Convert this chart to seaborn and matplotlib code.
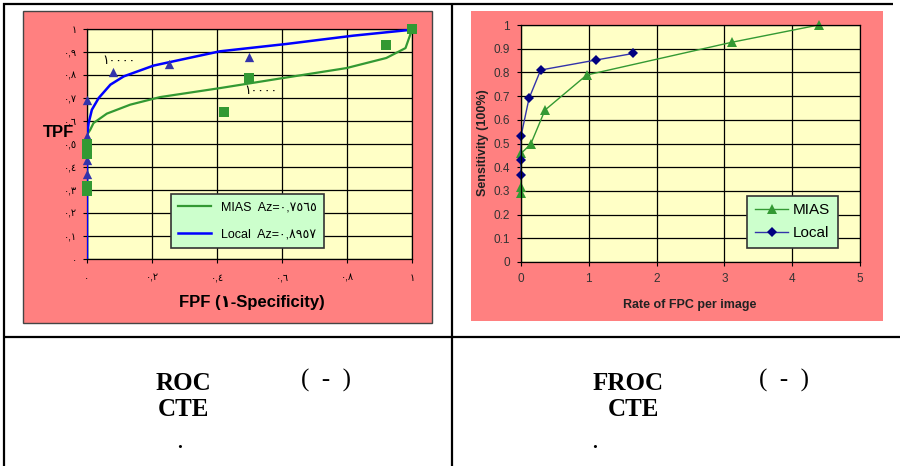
import numpy as np
import pandas as pd
import matplotlib
matplotlib.use('Agg')
import matplotlib.pyplot as plt
from matplotlib.patches import Rectangle
import seaborn as sns

# ROC chart (left): fitted curves
local_fit_x = [0, 0, 0.005, 0.015, 0.036, 0.072, 0.113, 0.205, 0.251, 0.409, 0.614, 0.819, 1.0]
local_fit_y = [0, 0.533, 0.591, 0.649, 0.700, 0.758, 0.794, 0.841, 0.855, 0.903, 0.935, 0.971, 0.997]
mias_fit_x = [0, 0, 0.010, 0.020, 0.061, 0.133, 0.225, 0.409, 0.604, 0.798, 0.921, 0.980, 1.0]
mias_fit_y = [0, 0.540, 0.562, 0.591, 0.632, 0.671, 0.704, 0.743, 0.787, 0.830, 0.874, 0.917, 0.997]

# ROC operating points
local_roc_fpf = [0, 0, 0, 0, 0.080, 0.252, 0.499]
local_roc_tpf = [0.368, 0.429, 0.536, 0.690, 0.812, 0.849, 0.877]
mias_roc_fpf = [0, 0, 0, 0, 0.420, 0.499, 0.919, 1.0]
mias_roc_tpf = [0.294, 0.316, 0.458, 0.500, 0.641, 0.788, 0.932, 1.0]

roc_yticks = [0, 0.1, 0.2, 0.3, 0.4, 0.5, 0.6, 0.7, 0.8, 0.9, 1.0]
roc_ylabels = ['٠', '٠,١', '٠,٢', '٠,٣', '٠,٤', '٠,٥', '٠,٦', '٠,٧', '٠,٨', '٠,٩', '١']
roc_xticks = [0, 0.2, 0.4, 0.6, 0.8, 1.0]
roc_xlabels = ['٠', '٠,٢', '٠,٤', '٠,٦', '٠,٨', '١']
roc_legend = ['MIAS  Az=٠,٧٥٦٥', 'Local  Az=٠,٨٩٥٧']
roc_note = '١٠٠٠٠'

# FROC chart (right)
mias_fpc = [0, 0, 0, 0.143, 0.354, 0.969, 3.107, 4.39]
mias_sens = [0.292, 0.317, 0.458, 0.497, 0.641, 0.789, 0.927, 1.0]
local_fpc = [0, 0, 0, 0.118, 0.290, 1.101, 1.657]
local_sens = [0.369, 0.431, 0.531, 0.690, 0.810, 0.852, 0.880]
froc_xticks = [0, 1, 2, 3, 4, 5]
froc_ylabels = ['0', '0.1', '0.2', '0.3', '0.4', '0.5', '0.6', '0.7', '0.8', '0.9', '1']

plt.rcParams['font.family'] = ['Liberation Sans', 'DejaVu Sans']

red = '#FF8080'
cream = '#FFFFC6'
mint = '#CCFFCC'
green = '#339933'
fig = plt.figure(figsize=(9, 4.66), dpi=100)

# page / table background in pixel coords
bg = fig.add_axes([0, 0, 1, 1])
bg.set_xlim(0, 900)
bg.set_ylim(466, 0)
bg.axis('off')
bg.add_patch(Rectangle((23, 11), 409, 312, facecolor=red, edgecolor='#444444', lw=1))
bg.add_patch(Rectangle((471, 11), 412, 310, facecolor=red, edgecolor='none'))
for xs, ys in [([3, 893], [3.5, 3.5]), ([3.5, 3.5], [3, 466]), ([452, 452], [3, 466]),
               ([3, 900], [337, 337])]:
    bg.plot(xs, ys, color='black', lw=1.6, solid_capstyle='butt')

serif = 'Liberation Serif'
bg.text(183, 383, 'ROC', family=serif, weight='bold', fontsize=18, ha='center', va='center')
bg.text(326, 380, '(  -  )', family=serif, fontsize=18, ha='center', va='center')
bg.text(183, 409, 'CTE', family=serif, weight='bold', fontsize=18, ha='center', va='center')
bg.text(180, 444, '.', family=serif, weight='bold', fontsize=14, ha='center', va='center')
bg.text(628, 383, 'FROC', family=serif, weight='bold', fontsize=18, ha='center', va='center')
bg.text(784, 380, '(  -  )', family=serif, fontsize=18, ha='center', va='center')
bg.text(633, 409, 'CTE', family=serif, weight='bold', fontsize=18, ha='center', va='center')
bg.text(595, 444, '.', family=serif, weight='bold', fontsize=14, ha='center', va='center')

# ---- ROC ----
ax1 = fig.add_axes([87 / 900, 1 - 259 / 466, 325 / 900, 230 / 466])
ax1.set_facecolor(cream)
sns.lineplot(x=mias_fit_x, y=mias_fit_y, sort=False, estimator=None, color=green,
             lw=1.6, ax=ax1, label=roc_legend[0], zorder=3)
sns.lineplot(x=local_fit_x, y=local_fit_y, sort=False, estimator=None, color='#0000FF',
             lw=1.8, ax=ax1, label=roc_legend[1], zorder=4)
sns.scatterplot(x=local_roc_fpf, y=local_roc_tpf, marker='^', color='#3333AA', s=45,
                linewidth=0, ax=ax1, zorder=5, clip_on=False)
sns.scatterplot(x=mias_roc_fpf, y=mias_roc_tpf, marker='s', color=green, s=45,
                linewidth=0, ax=ax1, zorder=6, clip_on=False)
ax1.text(0.098, 0.861, roc_note, fontsize=9, ha='center', va='center')
ax1.text(0.535, 0.730, roc_note, fontsize=9, ha='center', va='center')
ax1.set_xlim(0, 1)
ax1.set_ylim(0, 1)
ax1.set_xticks(roc_xticks)
ax1.set_xticklabels(roc_xlabels, fontsize=7)
ax1.set_yticks(roc_yticks)
ax1.set_yticklabels(roc_ylabels, fontsize=7)
ax1.tick_params(axis='x', length=3, pad=7)
ax1.tick_params(axis='y', length=3, pad=4)
ax1.grid(True, color='black', lw=0.9)
ax1.set_axisbelow(True)
for sp in ax1.spines.values():
    sp.set_color('black')
    sp.set_linewidth(0.9)
ax1.set_xlabel('FPF (١-Specificity)', fontsize=12, weight='bold')
ax1.xaxis.set_label_coords(0.508, -0.187)
ax1.xaxis.label.set_va('center')
ax1.set_ylabel('TPF', fontsize=12, weight='bold', rotation=0)
ax1.yaxis.set_label_coords(-0.088, 0.552)
ax1.yaxis.label.set_va('center')
ax1.yaxis.label.set_ha('center')
leg1 = ax1.legend(loc='lower left', bbox_to_anchor=(0.258, 0.048), fontsize=9,
                  frameon=True, fancybox=False, facecolor=mint, framealpha=1,
                  edgecolor='#333333', handlelength=2.6, borderpad=0.6, labelspacing=1.2,
                  borderaxespad=0)
leg1.get_frame().set_linewidth(1.2)

# ---- FROC ----
ax2 = fig.add_axes([521 / 900, 1 - 262 / 466, 339 / 900, 237 / 466])
ax2.set_facecolor(cream)
sns.lineplot(x=mias_fpc, y=mias_sens, sort=False, estimator=None, color=green, lw=1,
             marker='^', markersize=6.5, markeredgewidth=0, ax=ax2, label='MIAS', clip_on=False)
sns.lineplot(x=local_fpc, y=local_sens, sort=False, estimator=None, color='#3333AA', lw=1,
             marker='D', markersize=5, markerfacecolor='#000080', markeredgewidth=0,
             ax=ax2, label='Local', clip_on=False)
ax2.set_xlim(0, 5)
ax2.set_ylim(0, 1)
ax2.set_xticks(froc_xticks)
ax2.set_xticklabels([str(t) for t in froc_xticks], fontsize=8.5, color='#333333')
ax2.set_yticks(roc_yticks)
ax2.set_yticklabels(froc_ylabels, fontsize=8.5, color='#333333')
ax2.tick_params(axis='both', length=3, pad=5)
ax2.grid(True, color='black', lw=0.9)
ax2.set_axisbelow(True)
for sp in ax2.spines.values():
    sp.set_color('black')
    sp.set_linewidth(0.9)
ax2.set_xlabel('Rate of FPC per image', fontsize=9, weight='bold', color='#222222')
ax2.xaxis.set_label_coords(0.499, -0.181)
ax2.xaxis.label.set_va('center')
ax2.set_ylabel('Sensitivity (100%)', fontsize=9, weight='bold', color='#222222')
ax2.yaxis.set_label_coords(-0.112, 0.502)
ax2.yaxis.label.set_va('center')
leg2 = ax2.legend(loc='lower left', bbox_to_anchor=(0.667, 0.059), fontsize=11,
                  frameon=True, fancybox=False, facecolor=mint, framealpha=1,
                  edgecolor='#333333', handlelength=2.2, borderpad=0.5, labelspacing=0.6,
                  handletextpad=0.3, borderaxespad=0)
leg2.get_frame().set_linewidth(1.2)

fig.savefig('out.png', dpi=100)
